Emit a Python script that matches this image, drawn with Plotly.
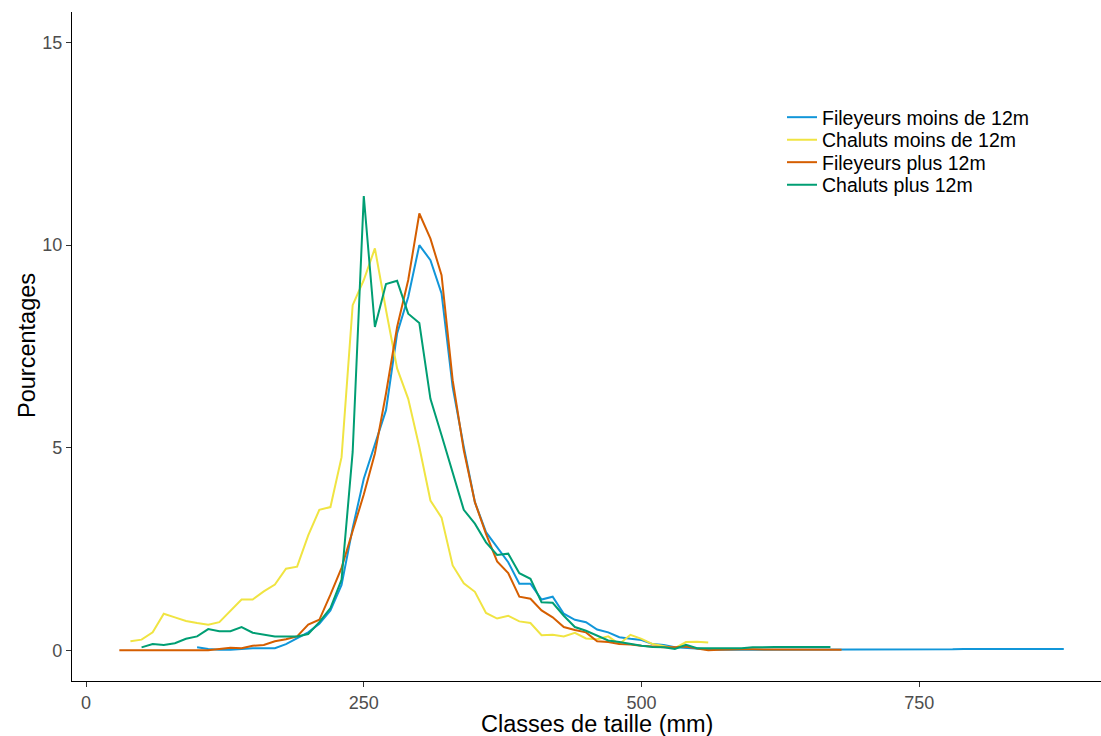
import plotly.graph_objects as go

# ---- data (size class in mm, percentage) ----
x_fil_moins = list(range(100, 881, 10))
y_fil_moins = [0.08, 0.04, 0.02, 0.02, 0.04, 0.06, 0.06, 0.06, 0.16, 0.31,
               0.45, 0.66, 0.99, 1.62, 3.02, 4.24, 5.10, 5.93, 7.82, 8.72,
               10.0, 9.63, 8.81, 6.50, 5.02, 3.66, 2.92, 2.55, 2.18, 1.65,
               1.65, 1.26, 1.33, 0.91, 0.76, 0.70, 0.52, 0.45, 0.33, 0.29,
               0.26, 0.16, 0.14, 0.08, 0.06, 0.04, 0.03, 0.02, 0.02, 0.02,
               0.02, 0.02, 0.02, 0.02, 0.02, 0.02, 0.02, 0.02, 0.02, 0.03,
               0.03, 0.03, 0.03, 0.03, 0.03, 0.03, 0.03, 0.03, 0.03, 0.04,
               0.04, 0.04, 0.04, 0.04, 0.04, 0.04, 0.04, 0.04, 0.04]

x_chal_moins = list(range(40, 561, 10))
y_chal_moins = [0.23, 0.27, 0.45, 0.91, 0.82, 0.73, 0.68, 0.64, 0.70, 0.99,
                1.26, 1.26, 1.46, 1.63, 2.02, 2.07, 2.84, 3.47, 3.54, 4.77,
                8.52, 9.14, 9.92, 8.40, 6.96, 6.21, 5.02, 3.70, 3.28, 2.10,
                1.66, 1.45, 0.93, 0.79, 0.86, 0.72, 0.68, 0.38, 0.39, 0.35,
                0.44, 0.30, 0.28, 0.35, 0.16, 0.39, 0.29, 0.16, 0.11, 0.06,
                0.21, 0.22, 0.20]

x_fil_plus = list(range(30, 681, 10))
y_fil_plus = [0.01, 0.01, 0.01, 0.01, 0.01, 0.01, 0.01, 0.01, 0.01, 0.04,
              0.07, 0.06, 0.12, 0.14, 0.23, 0.28, 0.35, 0.64, 0.76, 1.38,
              2.04, 2.95, 3.85, 4.86, 6.34, 7.98, 9.14, 10.78, 10.16, 9.26,
              6.67, 4.94, 3.66, 2.88, 2.20, 1.91, 1.33, 1.28, 0.99, 0.82,
              0.58, 0.51, 0.45, 0.23, 0.21, 0.16, 0.15, 0.12, 0.10, 0.08,
              0.08, 0.10, 0.05, 0.01, 0.02, 0.03, 0.03, 0.03, 0.03, 0.02,
              0.02, 0.03, 0.02, 0.02, 0.02, 0.02]

x_chal_plus = list(range(50, 671, 10))
y_chal_plus = [0.08, 0.16, 0.14, 0.18, 0.29, 0.35, 0.53, 0.48, 0.48, 0.58,
               0.44, 0.40, 0.35, 0.35, 0.35, 0.41, 0.70, 1.05, 1.75, 4.90,
               11.21, 7.98, 9.04, 9.12, 8.31, 8.08, 6.21, 5.31, 4.36, 3.47,
               3.13, 2.67, 2.36, 2.39, 1.91, 1.77, 1.19, 1.18, 0.86, 0.58,
               0.49, 0.37, 0.25, 0.21, 0.16, 0.12, 0.09, 0.08, 0.04, 0.14,
               0.06, 0.06, 0.06, 0.06, 0.06, 0.08, 0.09, 0.09, 0.09, 0.09,
               0.09, 0.09, 0.09]

series_names = ["Fileyeurs moins de 12m", "Chaluts moins de 12m",
                "Fileyeurs plus 12m", "Chaluts plus 12m"]
series_colors = ["#1196D9", "#F0E442", "#D55E00", "#009E73"]

x_ticks = [0, 250, 500, 750]
y_ticks = [0, 5, 10, 15]

FONT = "Liberation Sans, Arial, sans-serif"

# plot area in pixels: left 72, right 1101, top 12, bottom 681
PLOT_TOP, PLOT_BOTTOM, PLOT_LEFT, PLOT_W = 12, 681, 72, 1029
def py2paper(py):
    return (PLOT_BOTTOM - py) / (PLOT_BOTTOM - PLOT_TOP)
def px2paper(px):
    return (px - PLOT_LEFT) / PLOT_W

legend_ids = ["legend", "legend2", "legend3", "legend4"]
legend_rows_px = [117.5, 140, 162.5, 185]

fig = go.Figure()
for name, xs, ys, col, lid in zip(series_names,
                                  [x_fil_moins, x_chal_moins, x_fil_plus, x_chal_plus],
                                  [y_fil_moins, y_chal_moins, y_fil_plus, y_chal_plus],
                                  series_colors, legend_ids):
    fig.add_trace(go.Scatter(x=xs, y=ys, mode="lines", name=name,
                             line=dict(color=col, width=2), legend=lid))

legend_style = dict(xanchor="left", yanchor="middle", bgcolor="rgba(0,0,0,0)",
                    font=dict(size=19.5, color="black", family=FONT),
                    borderwidth=0)
legends = {}
for lid, row in zip(legend_ids, legend_rows_px):
    legends[lid] = dict(x=px2paper(782), y=py2paper(row), **legend_style)

fig.update_layout(
    width=1101, height=736,
    margin=dict(l=72, r=0, t=12, b=55),
    paper_bgcolor="white", plot_bgcolor="white",
    font=dict(family=FONT),
    showlegend=True,
    xaxis=dict(range=[-12.6, 913.5], tickvals=x_ticks, showgrid=False,
               zeroline=False, showline=True, linecolor="black", linewidth=1.2,
               ticks="outside", ticklen=5, tickcolor="#333333", tickwidth=1.1,
               tickfont=dict(size=18, color="#4D4D4D"), title=None),
    yaxis=dict(range=[-0.75, 15.75], tickvals=y_ticks, showgrid=False,
               zeroline=False, showline=True, linecolor="black", linewidth=1.2,
               ticks="outside", ticklen=5, tickcolor="#333333", tickwidth=1.1,
               tickfont=dict(size=18, color="#4D4D4D"), title=None),
    annotations=[
        dict(text="Classes de taille (mm)", xref="paper", yref="paper",
             x=px2paper(597), y=py2paper(724), xanchor="center",
             yanchor="middle", showarrow=False,
             font=dict(size=23.5, color="black", family=FONT)),
        dict(text="Pourcentages", xref="paper", yref="paper",
             x=px2paper(27), y=py2paper(346), xanchor="center",
             yanchor="middle", showarrow=False, textangle=-90,
             font=dict(size=23.5, color="black", family=FONT)),
    ],
    **legends,
)

fig.write_html("out.html")
